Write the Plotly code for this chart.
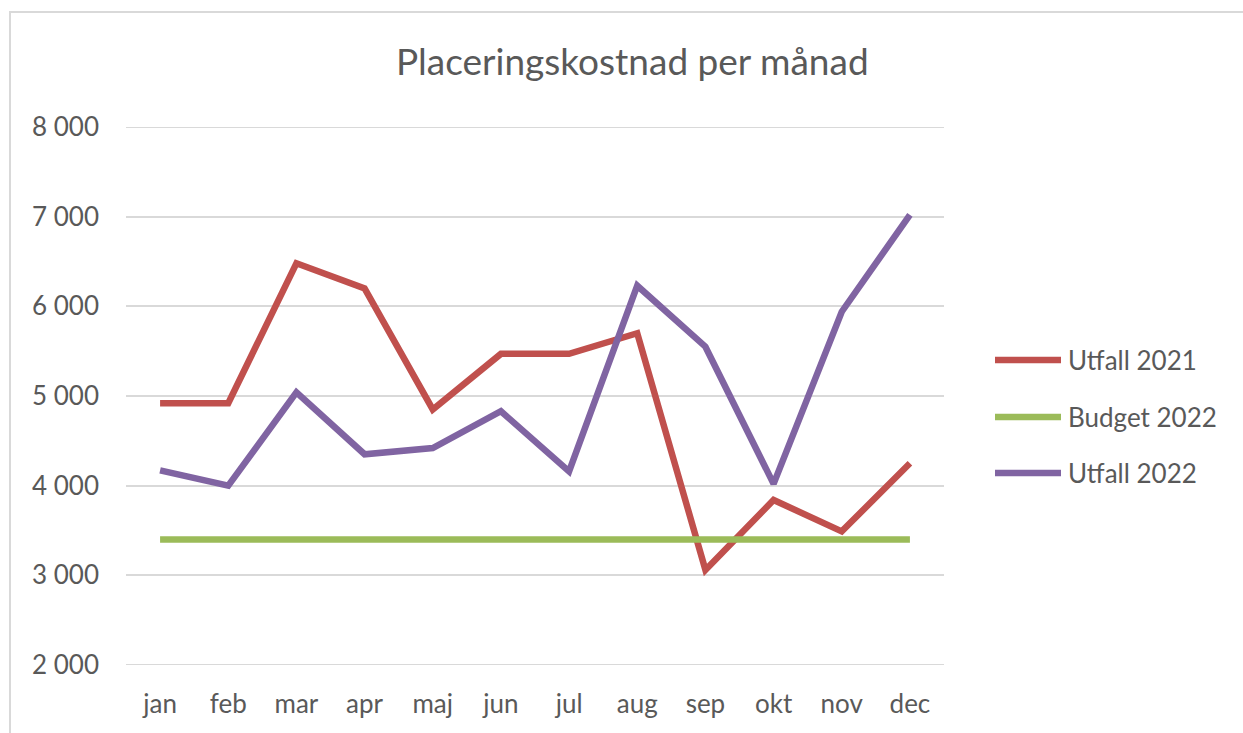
import plotly.graph_objects as go

# Monthly placement cost
months = ["jan", "feb", "mar", "apr", "maj", "jun", "jul", "aug", "sep", "okt", "nov", "dec"]
utfall_2021 = [4920, 4920, 6480, 6200, 4850, 5470, 5470, 5700, 3060, 3840, 3490, 4250]
budget_2022 = [3400, 3400, 3400, 3400, 3400, 3400, 3400, 3400, 3400, 3400, 3400, 3400]
utfall_2022 = [4170, 4000, 5040, 4350, 4420, 4830, 4160, 6230, 5550, 4020, 5940, 7020]
y_ticks = [2000, 3000, 4000, 5000, 6000, 7000, 8000]

series_names = ["Utfall 2021", "Budget 2022", "Utfall 2022"]
series_values = [utfall_2021, budget_2022, utfall_2022]
series_colors = ["#C0504D", "#9BBB59", "#8064A2"]

FONT = "Lato"
TEXT_COLOR = "#595959"
GRID_COLOR = "#D9D9D9"

W, H = 1243, 733
L, R, T, B = 126, 299, 127, 68
plot_w = W - L - R
plot_h = H - T - B


def px_x(px):
    return (px - L) / plot_w


def px_y(py):
    return (H - B - py) / plot_h


fig = go.Figure()
for name, vals, col in zip(series_names, series_values, series_colors):
    fig.add_trace(go.Scatter(
        x=months, y=vals, name=name, mode="lines",
        line=dict(color=col, width=6.5),
        showlegend=False,
    ))

shapes = []
annotations = []

# chart frame
shapes.append(dict(
    type="rect", xref="paper", yref="paper",
    x0=px_x(10), x1=px_x(1300), y0=px_y(790), y1=px_y(12),
    line=dict(color=GRID_COLOR, width=2), fillcolor="rgba(0,0,0,0)",
    layer="below",
))

# horizontal gridlines at the bottom and top of the value range
for v in (y_ticks[0], y_ticks[-1]):
    shapes.append(dict(
        type="line", xref="paper", yref="y",
        x0=0, x1=1, y0=v, y1=v,
        line=dict(color=GRID_COLOR, width=2), layer="below",
    ))

# legend entries
legend_rows = [360, 417, 473]
for name, col, row in zip(series_names, series_colors, legend_rows):
    shapes.append(dict(
        type="line", xref="paper", yref="paper",
        x0=px_x(995), x1=px_x(1061), y0=px_y(row), y1=px_y(row),
        line=dict(color=col, width=6.5),
    ))
    annotations.append(dict(
        text=name, xref="paper", yref="paper",
        x=px_x(1066), y=px_y(row), xanchor="left", yanchor="middle",
        showarrow=False, font=dict(family=FONT, size=26, color=TEXT_COLOR),
    ))

# title
annotations.append(dict(
    text="Placeringskostnad per månad", xref="paper", yref="paper",
    x=px_x(632), y=px_y(61), xanchor="center", yanchor="middle",
    showarrow=False, font=dict(family=FONT, size=37, color=TEXT_COLOR),
))

fig.update_layout(
    width=W, height=H, autosize=False,
    margin=dict(l=L, r=R, t=T, b=B),
    paper_bgcolor="white", plot_bgcolor="white",
    separators=", ",
    font=dict(family=FONT, color=TEXT_COLOR),
    shapes=shapes,
    annotations=annotations,
    xaxis=dict(
        type="category", range=[-0.5, 11.5],
        showgrid=False, zeroline=False, showline=False, ticks="",
        tickfont=dict(family=FONT, size=26, color=TEXT_COLOR),
        ticklabelstandoff=21,
    ),
    yaxis=dict(
        range=[2000, 8000], tickvals=y_ticks,
        tickformat=",d",
        showgrid=True, gridcolor=GRID_COLOR, gridwidth=2,
        zeroline=False, showline=False, ticks="",
        tickfont=dict(family=FONT, size=26, color=TEXT_COLOR),
        ticklabelstandoff=26,
    ),
)

fig.write_html("out.html")
